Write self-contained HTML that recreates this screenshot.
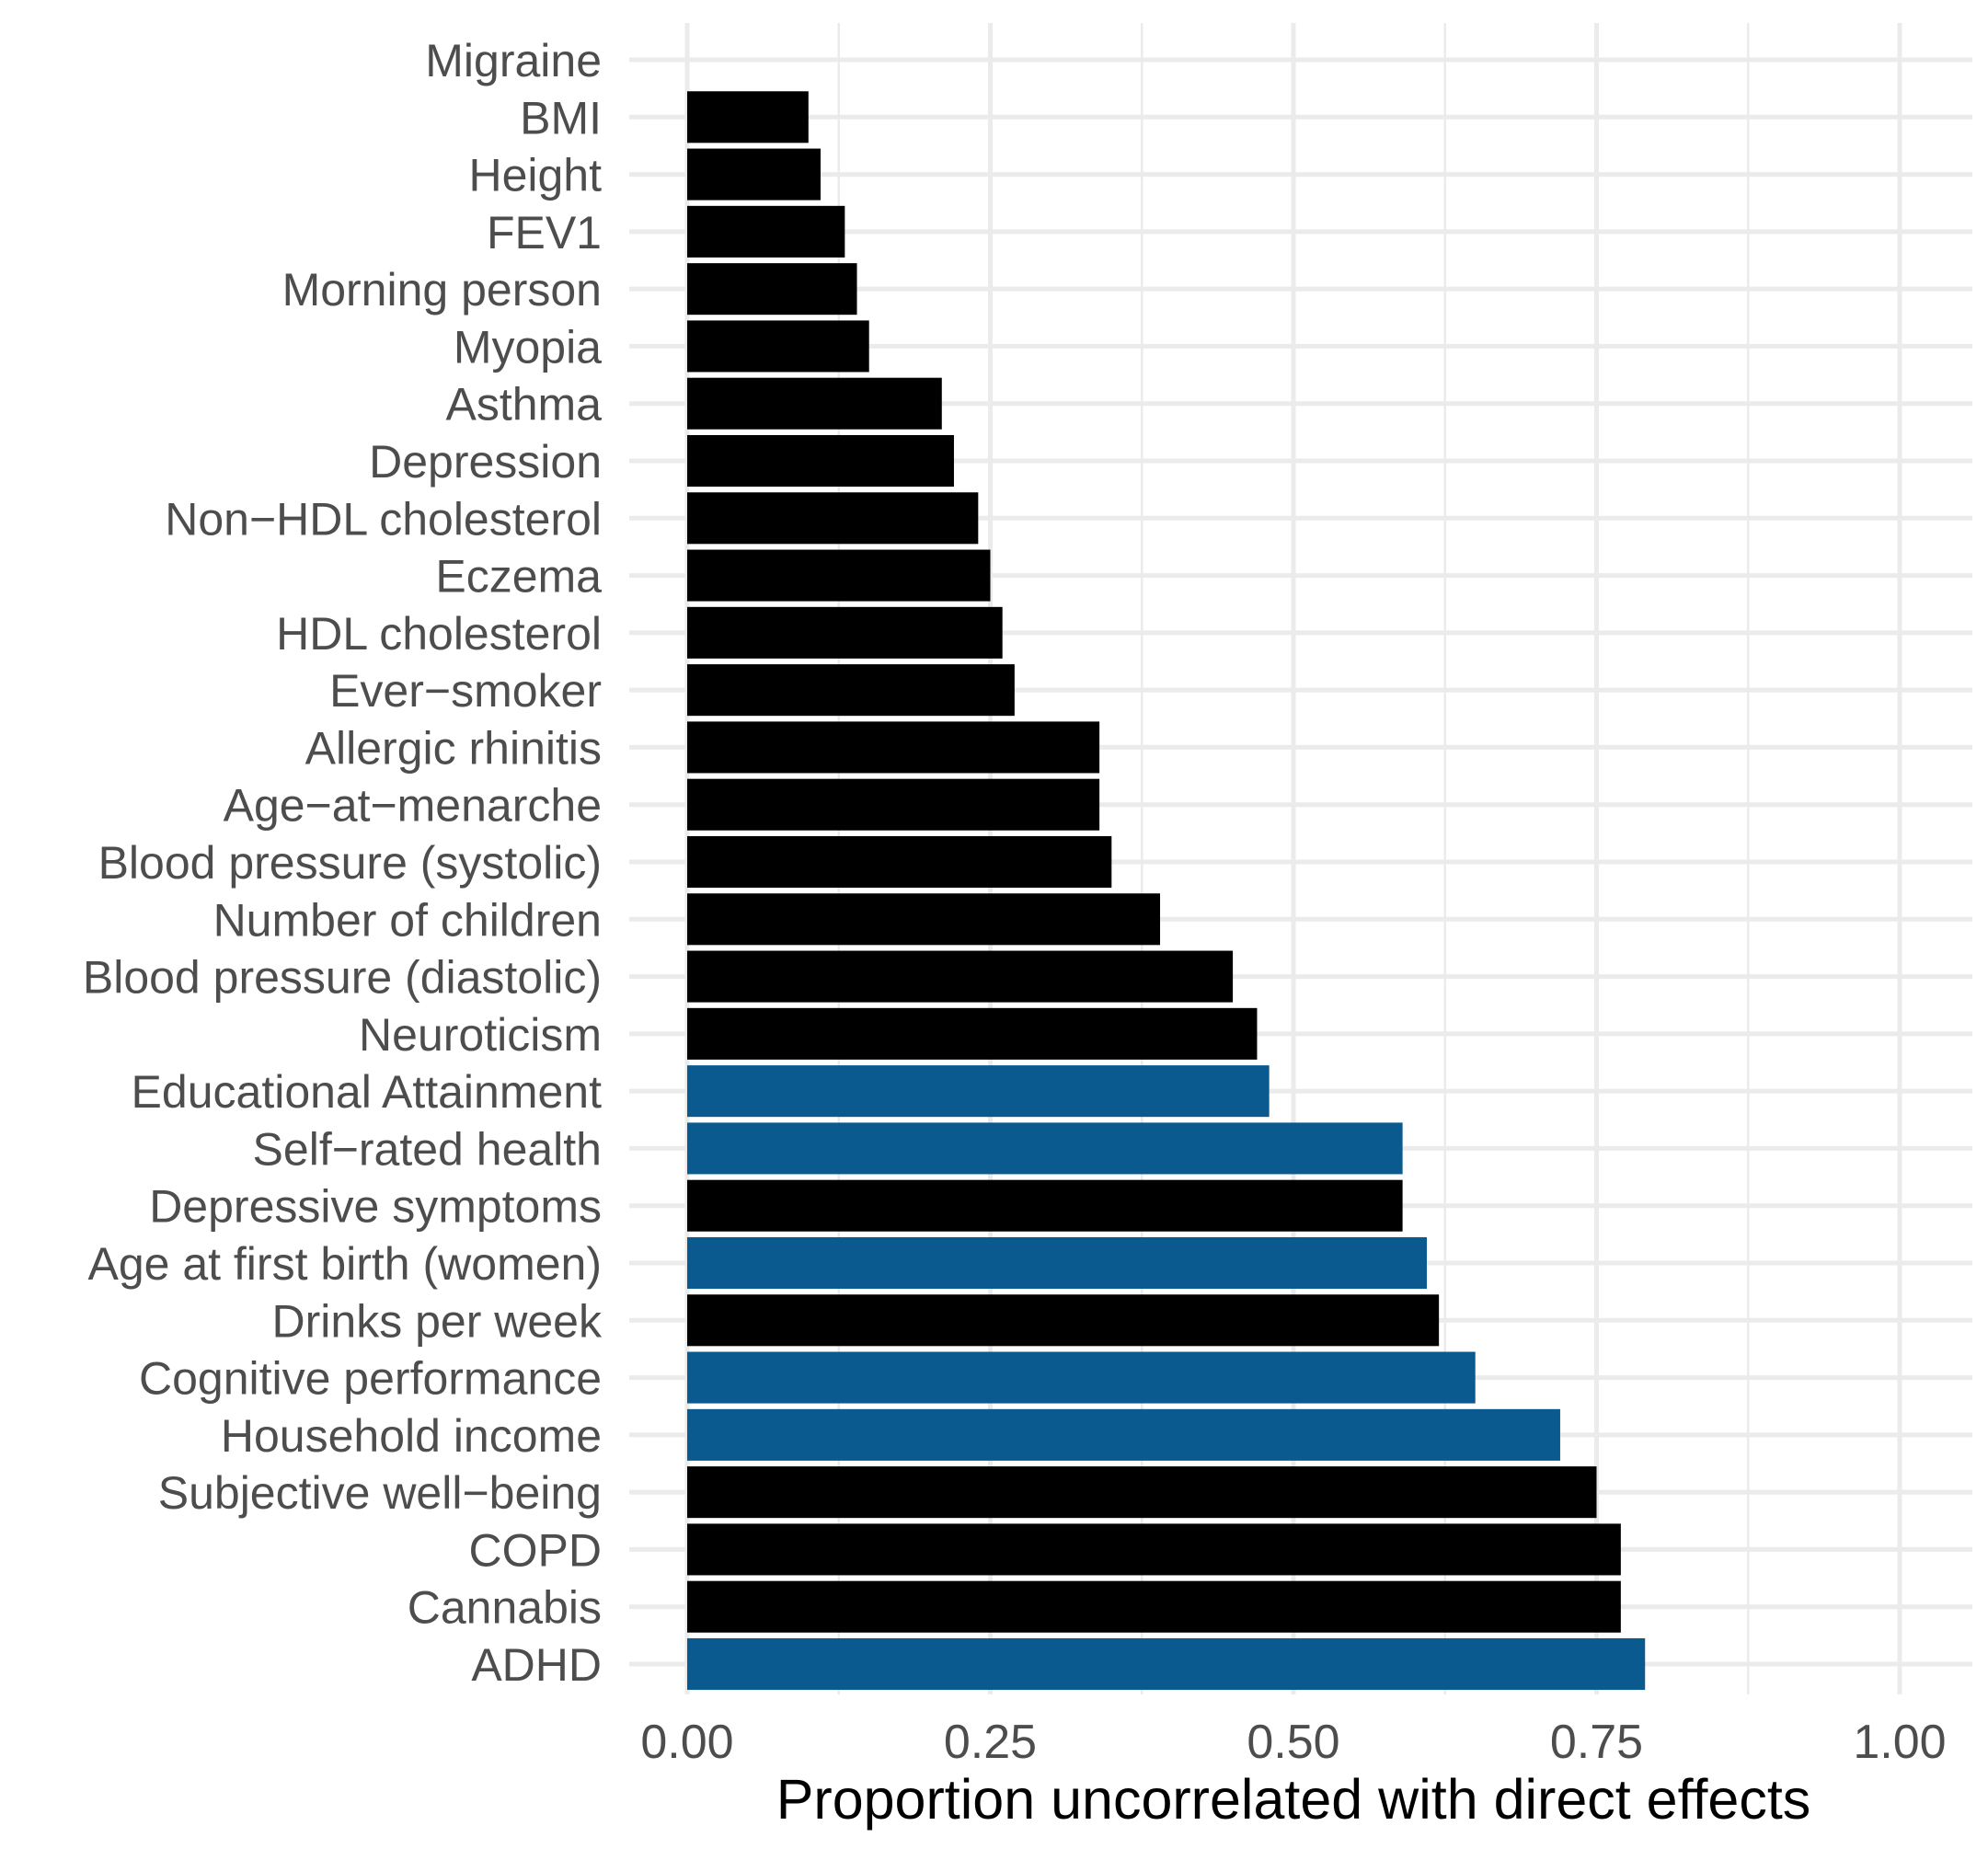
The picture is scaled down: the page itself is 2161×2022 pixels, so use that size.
<!DOCTYPE html>
<html><head><meta charset="utf-8"><style>body{margin:0;background:#fff}svg{display:block}</style></head>
<body>
<svg id="chart" width="2161" height="2022" xmlns="http://www.w3.org/2000/svg" font-family="Liberation Sans, sans-serif"></svg>
<script>
const categories=["Migraine","BMI","Height","FEV1","Morning person","Myopia","Asthma","Depression","Non\u2212HDL cholesterol","Eczema","HDL cholesterol","Ever\u2212smoker","Allergic rhinitis","Age\u2212at\u2212menarche","Blood pressure (systolic)","Number of children","Blood pressure (diastolic)","Neuroticism","Educational Attainment","Self\u2212rated health","Depressive symptoms","Age at first birth (women)","Drinks per week","Cognitive performance","Household income","Subjective well\u2212being","COPD","Cannabis","ADHD"];
const values=[0,0.10,0.11,0.13,0.14,0.15,0.21,0.22,0.24,0.25,0.26,0.27,0.34,0.34,0.35,0.39,0.45,0.47,0.48,0.59,0.59,0.61,0.62,0.65,0.72,0.75,0.77,0.77,0.79];
const highlighted=[0,0,0,0,0,0,0,0,0,0,0,0,0,0,0,0,0,0,1,1,0,1,0,1,1,0,0,0,1];
const ticks=[0,0.25,0.5,0.75,1];
const tickLabels=["0.00","0.25","0.50","0.75","1.00"];
const NS="http://www.w3.org/2000/svg";
const svg=document.getElementById('chart');
const X0=747,X1=2065,px0=684,px1=2144,py0=25,py1=1842,Y0=65,Y1=1809;
const x=v=>X0+(X1-X0)*v;
const band=(Y1-Y0)/(categories.length-1);
const y=i=>Y0+band*i;
function mk(t,a){const e=document.createElementNS(NS,t);for(const k in a)e.setAttribute(k,a[k]);svg.appendChild(e);return e;}
for(let i=0;i<ticks.length-1;i++){
  const m=(ticks[i]+ticks[i+1])/2;
  const l=mk('line',{x1:x(m),x2:x(m),y1:py0,y2:py1,stroke:'#ebebeb','stroke-width':2.5});
  
  
}
ticks.forEach((t,i)=>{
  const l=mk('line',{x1:x(t),x2:x(t),y1:py0,y2:py1,stroke:'#ebebeb','stroke-width':5});
  
  
  const tx=mk('text',{x:x(t),y:1911,'text-anchor':'middle','font-size':52,fill:'#4d4d4d'});
  tx.textContent=tickLabels[i];
  
  
});
categories.forEach((c,i)=>{
  const l=mk('line',{x1:px0,x2:px1,y1:y(i),y2:y(i),stroke:'#ebebeb','stroke-width':5});
  
  
});
categories.forEach((c,i)=>{
  const h=band*0.9;
  if(values[i]>0){
    const r=mk('rect',{x:x(0),y:y(i)-h/2,width:x(values[i])-x(0),height:h,fill:highlighted[i]?'#0a5a8f':'#000'});
    
    
  }
  const t=mk('text',{x:654,y:y(i)+18,'text-anchor':'end','font-size':50,fill:'#4d4d4d'});
  t.textContent=c;
  
  
});
const title=mk('text',{x:(x(0)+x(1))/2,y:1977,'text-anchor':'middle','font-size':61,fill:'#000'});
title.textContent='Proportion uncorrelated with direct effects';


</script>
</body></html>
